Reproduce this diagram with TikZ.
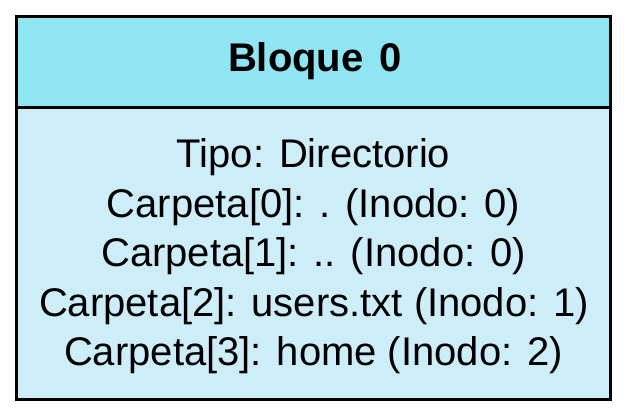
\documentclass[tikz,border=0pt]{standalone}
\usepackage{fontspec}
\setmainfont{Liberation Sans}
\definecolor{headfill}{HTML}{8FE5F1}
\definecolor{bodyfill}{HTML}{CDEEF9}
\begin{document}
\begin{tikzpicture}[x=1pt,y=1pt,
  frame/.style={draw=black,line width=3pt},
  label/.style={anchor=base,inner sep=0pt,font=\fontsize{40}{48}\selectfont},
  title/.style={label,font=\fontsize{40}{48}\selectfont\bfseries}]
  \useasboundingbox (0,0) rectangle (628,417);
  % header and body panels
  \fill[headfill] (16.5,309) rectangle (610.5,400.5);
  \fill[bodyfill] (16.5,17.5) rectangle (610.5,309);
  \draw[frame] (16.5,17.5) rectangle (610.5,400.5);
  \draw[frame] (16.5,309) -- (610.5,309);
  % header text
  \node[title] (t) at (315,345) {Bloque\hspace{16pt}0};
  % block contents
  \node[label] (l0) at (313.5,249) {Tipo: Directorio};
  \node[label] (l1) at (313.5,199.5) {Carpeta[0]: . (Inodo: 0)};
  \node[label] (l2) at (313.5,150) {Carpeta[1]: .. (Inodo: 0)};
  \node[label] (l3) at (314,100.5) {Carpeta[2]: users.txt (Inodo: 1)};
  \node[label] (l4) at (313.5,51) {Carpeta[3]: home (Inodo: 2)};
\end{tikzpicture}
\end{document}
